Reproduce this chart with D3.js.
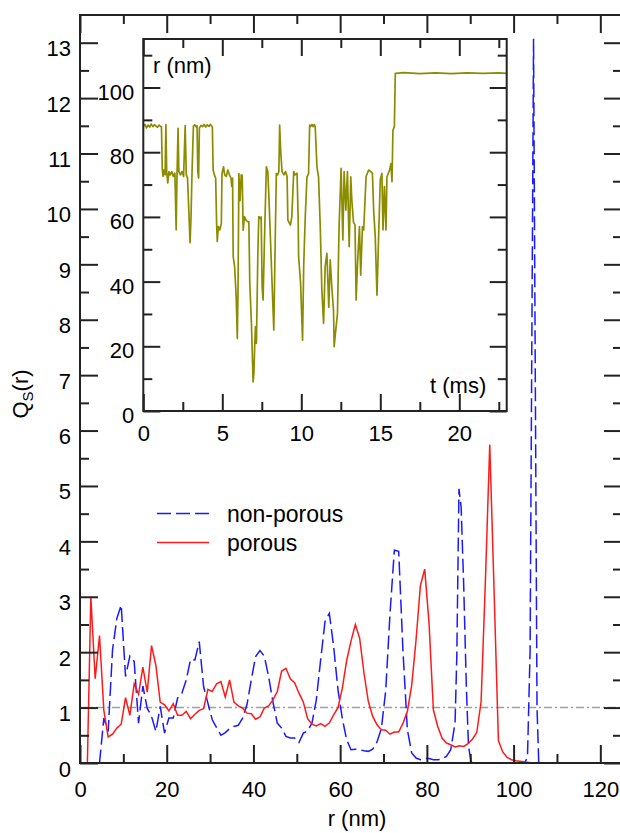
<!DOCTYPE html>
<html><head><meta charset="utf-8">
<script src="https://cdn.jsdelivr.net/npm/d3@7"></script>
<style>
body{margin:0;background:#fff}
svg{display:block}
text{font-family:"Liberation Sans",Arial,Helvetica,sans-serif;fill:#000}
</style>
</head><body>
<svg id="c" width="620" height="833"></svg>
<script>
// ---------- main chart data ----------
const rPorous = [0,1,1.7,2.5,3.5,4.5,5.5,6.5,7.5,8.5,9.5,10.5,11.5,12.5,13.5,14.5,15.5,16.5,17.5,18.5,19.5,20.5,21.5,22.5,23.5,24.5,25.5,26.5,27.5,28.5,29.5,30.5,31.5,32.5,33.5,34.5,35.5,36.5,37.5,38.5,39.5,40.5,41.5,42.5,43.5,44.5,45.5,46.5,47.5,48.5,49.5,50.5,51.5,52.5,53.5,54.5,55.5,56.5,57.5,58.5,59.5,60.5,61.5,62.5,63.5,64.5,65.5,66.5,67.5,68.5,69.5,70.5,71.5,72.5,73.5,74.5,75.5,76.5,77.5,78.5,79.5,80.5,81.5,82.5,83.5,84.5,85.5,86.5,87.5,88.5,89.5,90.5,91.5,92.5,93.5,94.5,95.5,96.5,97.5,98.5,99.5,100.5,101.5,102.5,103.5,104.5,110,115,120,125];
const qPorous = [0,0,0,3.0,1.52,2.3,0.95,0.47,0.52,0.63,0.7,1.18,0.86,1.43,1.24,1.73,1.28,2.12,1.76,1.1,1.05,0.94,1.07,0.86,0.86,0.93,0.8,0.88,0.95,0.98,1.33,1.29,1.43,1.47,1.19,1.5,1.1,1.03,0.99,0.9,0.89,0.79,0.83,0.99,1.03,1.14,1.29,1.66,1.71,1.52,1.45,1.26,1.1,0.8,0.7,0.67,0.71,0.66,0.72,0.87,1.0,1.35,1.85,2.2,2.5,2.25,1.62,1.11,0.84,0.69,0.6,0.59,0.52,0.56,0.56,0.72,0.93,1.4,2.22,3.2,3.5,2.52,0.96,0.66,0.45,0.36,0.33,0.29,0.31,0.3,0.35,0.43,0.55,1.1,3.3,5.75,3.1,0.4,0.2,0.1,0.06,0.04,0.03,0.02,0.01,0,0,0,0,0];

const rNonPorous = [0,1,2,3,4,4.5,5.5,6.5,7.5,8.5,9.5,10.5,11.5,12.5,13.5,14.5,15.5,16.5,17.5,18.5,19.5,20.5,21.5,22.5,23.5,24.5,25.5,26.5,27.5,28.5,29.5,30.5,31.5,32.5,33.5,34.5,35.5,36.5,37.5,38.5,39.5,40.5,41.5,42.5,43.5,44.5,45.5,46.5,47.5,48.5,49.5,50.5,51.5,52.5,53.5,54.5,55.5,56.5,57.5,58.5,59.5,60.5,61.5,62.5,63.5,64.5,65.5,66.5,67.5,68.5,69.5,70.5,71.5,72.5,73.5,74.5,75.5,76.5,77.5,78.5,79.5,80.5,81.5,82.5,83.5,84.5,85.5,86.5,86.9,87.4,87.9,88.5,89.1,89.6,90.2,91.5,95,100,102.5,103.2,103.8,104.6,105.4,105.8,110,115,120,125];
const qNonPorous = [0,0,0,0,0,0,0.81,0.57,2.04,2.61,2.85,1.56,1.93,1.83,0.72,1.39,0.99,0.84,0.57,1.02,0.54,0.81,0.81,1.17,1.26,1.5,1.87,1.86,2.19,1.38,1.08,0.78,0.64,0.5,0.55,0.62,0.66,0.68,0.81,1.05,1.5,1.92,2.03,1.93,1.56,1.1,0.72,0.63,0.48,0.45,0.45,0.37,0.54,0.58,0.72,1.14,1.86,2.55,2.7,2.1,1.32,0.8,0.42,0.24,0.25,0.24,0.22,0.21,0.25,0.38,0.62,1.3,2.7,3.84,3.82,2.0,0.6,0.18,0.09,0.06,0.08,0.08,0.06,0.06,0.07,0.12,0.24,0.72,1.92,4.95,4.62,3.18,1.38,0.3,0.03,0,0,0,0,0.1,2.0,13.07,1.0,0,0,0,0,0];

const xTickValues = [0,20,40,60,80,100,120];
const xMinorValues = [10,30,50,70,90,110];
const yTickValues = [0,1,2,3,4,5,6,7,8,9,10,11,12,13];
const yMinorValues = [0.5,1.5,2.5,3.5,4.5,5.5,6.5,7.5,8.5,9.5,10.5,11.5,12.5];
const referenceLevel = [1];

// ---------- inset data: r(t) ----------
const insetT = [0,0.1,0.2,0.3,0.4,0.5,0.6,0.7,0.8,0.9,1.0,1.1,1.15,1.2,1.25,1.3,1.38,1.43,1.48,1.55,1.62,1.7,1.8,1.9,2.0,2.08,2.13,2.2,2.25,2.35,2.45,2.55,2.65,2.72,2.8,2.88,2.96,3.02,3.08,3.17,3.25,3.35,3.4,3.45,3.5,3.55,3.65,3.75,3.85,3.95,4.05,4.15,4.25,4.37,4.42,4.5,4.58,4.64,4.68,4.75,4.85,4.94,4.98,5.08,5.15,5.25,5.35,5.45,5.55,5.6,5.65,5.69,5.78,5.88,5.95,6.0,6.05,6.12,6.2,6.26,6.32,6.4,6.5,6.6,6.68,6.74,6.85,6.95,7.0,7.05,7.1,7.16,7.25,7.31,7.4,7.46,7.52,7.58,7.68,7.79,7.88,7.94,8.05,8.15,8.26,8.34,8.42,8.5,8.58,8.63,8.7,8.78,8.9,9.0,9.1,9.15,9.31,9.4,9.52,9.6,9.73,9.8,9.83,9.95,10.08,10.15,10.25,10.36,10.46,10.53,10.6,10.68,10.75,10.82,10.88,10.99,11.09,11.2,11.3,11.41,11.51,11.62,11.74,11.83,11.93,12.04,12.08,12.18,12.29,12.39,12.52,12.63,12.71,12.82,12.92,13.03,13.13,13.2,13.3,13.4,13.47,13.55,13.68,13.76,13.87,13.95,14.1,14.26,14.4,14.5,14.58,14.68,14.79,14.9,15.0,15.1,15.17,15.26,15.36,15.42,15.59,15.67,15.74,15.8,15.89,15.95,16.5,17.5,18.5,19.5,20.5,21.5,22.5,23.0];
const insetR = [88.0,88.6,87.5,88.4,87.8,88.7,87.9,88.5,88.1,87.7,88.4,88.0,87.8,75,72.5,74.5,73,88.5,74,70.5,74,73,74,72.5,73.5,56,72,87.4,74,73,74,72.5,88.2,73,72,62,52,60,73,88,88.5,87.8,88.2,74,72,87.5,88.3,87.9,88.6,87.8,88.5,88.0,88.6,87.8,74.5,73,72,58,52.4,57,56,58,73.4,75.5,73,72.5,74.5,73,72,69.4,72,47.7,44.6,35,22.4,40,73.4,65,73,72.9,55.9,60.1,59,58.5,58.5,39.4,26.1,9.0,11.6,20,26.1,20.9,48.7,60.1,59.5,60,38.4,34.3,55,75.5,74.0,67.3,52.9,39.4,25.0,50,73.4,73,74,88.4,80,74.0,73,74,72.5,59.0,57.5,60,74.0,73,73.5,60,47.7,40,21.9,44.6,60,72.4,73.4,88.4,88.0,88.6,87.9,88.5,88,75.5,72.4,57.0,37.4,27.1,44.6,48.7,32.0,46.7,38.4,31.0,19.9,25.0,30.1,57.0,75.0,52.9,74.0,62.1,74.0,50.8,72.4,65,58.5,57.5,34.3,44.6,57.0,42.0,57.0,56,72.5,74.5,74,73.5,62,53.9,35.8,55,71.4,73.5,56,69.4,56,72.4,74.5,76.5,70.9,86.8,87.9,104.4,104.6,104.3,104.5,104.3,104.5,104.4,104.5,104.4];
const insetXTicks = [0,5,10,15,20];
const insetXMinor = [2.5,7.5,12.5,17.5,22.5];
const insetYTicks = [0,20,40,60,80,100];
const insetYMinor = [10,30,50,70,90,110];

// ---------- drawing ----------
const svg = d3.select("#c");
const FS = 22;
const x = d3.scaleLinear().domain([0,125]).range([80,622]);
const y = d3.scaleLinear().domain([0,13.5]).range([763,15]);

svg.append("defs").append("clipPath").attr("id","mainclip")
  .append("rect").attr("x",80).attr("y",15).attr("width",542).attr("height",748);

function styleAxis(g){
  g.select(".domain").remove();
  g.selectAll(".tick line").attr("stroke","#222").attr("stroke-width",2);
  g.selectAll("text").attr("font-size",FS).attr("font-family",'"Liberation Sans",Arial,sans-serif').attr("fill","#000");
}

// reference line Q=1
svg.append("g").attr("clip-path","url(#mainclip)")
  .selectAll("line").data(referenceLevel).join("line")
  .attr("x1",x(0)).attr("x2",x(125)).attr("y1",d=>y(d)).attr("y2",d=>y(d))
  .attr("stroke","#a0a0a0").attr("stroke-width",1.5).attr("stroke-dasharray","8,3,2,3");

const lineGen = d3.line().x(d=>x(d[0])).y(d=>y(d[1]));
const plotG = svg.append("g").attr("clip-path","url(#mainclip)");
plotG.append("path").datum(rNonPorous.map((r,i)=>[r,qNonPorous[i]]))
  .attr("d",lineGen).attr("fill","none").attr("stroke","#1a1aff").attr("stroke-width",1.5)
  .attr("stroke-dasharray","14,5");
plotG.append("path").datum(rPorous.map((r,i)=>[r,qPorous[i]]))
  .attr("d",lineGen).attr("fill","none").attr("stroke","#ff1a1a").attr("stroke-width",1.5);

// main axes
const gB = svg.append("g").attr("transform","translate(0,763)")
  .call(d3.axisBottom(x).tickValues(xTickValues).tickSize(-18).tickFormat(d3.format("d")));
styleAxis(gB);
gB.selectAll("text").attr("y",34).attr("dy",0);
styleAxis(svg.append("g").attr("transform","translate(0,763)")
  .call(d3.axisBottom(x).tickValues(xMinorValues).tickSize(-9).tickFormat("")));
styleAxis(svg.append("g").attr("transform","translate(0,15)")
  .call(d3.axisTop(x).tickValues(xTickValues).tickSize(-18).tickFormat("")));
styleAxis(svg.append("g").attr("transform","translate(0,15)")
  .call(d3.axisTop(x).tickValues(xMinorValues).tickSize(-9).tickFormat("")));

const gL = svg.append("g").attr("transform","translate(80,0)")
  .call(d3.axisLeft(y).tickValues(yTickValues).tickSize(-18).tickFormat(d3.format("d")));
styleAxis(gL);
gL.selectAll("text").attr("x",-9).attr("dy",0).attr("y",13);
styleAxis(svg.append("g").attr("transform","translate(80,0)")
  .call(d3.axisLeft(y).tickValues(yMinorValues).tickSize(-9).tickFormat("")));
styleAxis(svg.append("g").attr("transform","translate(622,0)")
  .call(d3.axisLeft(y).tickValues(yTickValues).tickSize(18).tickFormat("")));
styleAxis(svg.append("g").attr("transform","translate(622,0)")
  .call(d3.axisLeft(y).tickValues(yMinorValues).tickSize(9).tickFormat("")));

svg.append("rect").attr("x",80).attr("y",15).attr("width",542).attr("height",748)
  .attr("fill","none").attr("stroke","#222").attr("stroke-width",2);

// axis titles
svg.append("text").attr("x",357).attr("y",826).attr("text-anchor","middle")
  .attr("font-size",FS).text("r (nm)");
const yt = svg.append("text").attr("transform","translate(28,394) rotate(-90)")
  .attr("text-anchor","middle").attr("font-size",FS);
yt.append("tspan").text("Q");
yt.append("tspan").attr("font-size",15).attr("dy",5).text("S");
yt.append("tspan").attr("dy",-5).text("(r)");

// legend
const legendNames = ["non-porous","porous"];
const legendColors = ["#1a1aff","#ff1a1a"];
const legendDash = ["14,5",null];
legendNames.forEach((n,i)=>{
  const ly = 513.5 + i*29;
  svg.append("line").attr("x1",157).attr("x2",209).attr("y1",ly).attr("y2",ly)
    .attr("stroke",legendColors[i]).attr("stroke-width",1.5)
    .attr("stroke-dasharray",legendDash[i]);
  svg.append("text").attr("x",227).attr("y",ly+8).attr("font-size",23).text(n);
});

// ---------- inset ----------
const xi = d3.scaleLinear().domain([0,23]).range([143.3,506.7]);
const yi = d3.scaleLinear().domain([0,115]).range([411,39]);
svg.append("rect").attr("x",143.3).attr("y",39).attr("width",363.4).attr("height",372).attr("fill","#fff");
svg.append("defs").append("clipPath").attr("id","insetclip")
  .append("rect").attr("x",143.3).attr("y",39).attr("width",363.4).attr("height",372);

svg.append("g").attr("clip-path","url(#insetclip)").append("path")
  .datum(insetT.map((t,i)=>[t,insetR[i]]))
  .attr("d",d3.line().x(d=>xi(d[0])).y(d=>yi(d[1])))
  .attr("fill","none").attr("stroke","#8c8c00").attr("stroke-width",1.7).attr("stroke-linejoin","round");

const giB = svg.append("g").attr("transform","translate(0,411)")
  .call(d3.axisBottom(xi).tickValues(insetXTicks).tickSize(-17).tickFormat(d3.format("d")));
styleAxis(giB);
giB.selectAll("text").attr("y",30).attr("dy",0);
styleAxis(svg.append("g").attr("transform","translate(0,411)")
  .call(d3.axisBottom(xi).tickValues(insetXMinor).tickSize(-9).tickFormat("")));
styleAxis(svg.append("g").attr("transform","translate(0,39)")
  .call(d3.axisTop(xi).tickValues(insetXTicks).tickSize(-17).tickFormat("")));
styleAxis(svg.append("g").attr("transform","translate(0,39)")
  .call(d3.axisTop(xi).tickValues(insetXMinor).tickSize(-9).tickFormat("")));
const giL = svg.append("g").attr("transform","translate(143.3,0)")
  .call(d3.axisLeft(yi).tickValues(insetYTicks).tickSize(-17).tickFormat(d3.format("d")));
styleAxis(giL);
giL.selectAll("text").attr("x",-9).attr("dy",0).attr("y",11.5);
styleAxis(svg.append("g").attr("transform","translate(143.3,0)")
  .call(d3.axisLeft(yi).tickValues(insetYMinor).tickSize(-9).tickFormat("")));
styleAxis(svg.append("g").attr("transform","translate(506.7,0)")
  .call(d3.axisLeft(yi).tickValues(insetYTicks).tickSize(17).tickFormat("")));
styleAxis(svg.append("g").attr("transform","translate(506.7,0)")
  .call(d3.axisLeft(yi).tickValues(insetYMinor).tickSize(9).tickFormat("")));
svg.append("rect").attr("x",143.3).attr("y",39).attr("width",363.4).attr("height",372)
  .attr("fill","none").attr("stroke","#222").attr("stroke-width",2);

svg.append("text").attr("x",153).attr("y",73).attr("font-size",FS).text("r (nm)");
svg.append("text").attr("x",430).attr("y",393).attr("font-size",FS).text("t (ms)");
</script>
</body></html>
